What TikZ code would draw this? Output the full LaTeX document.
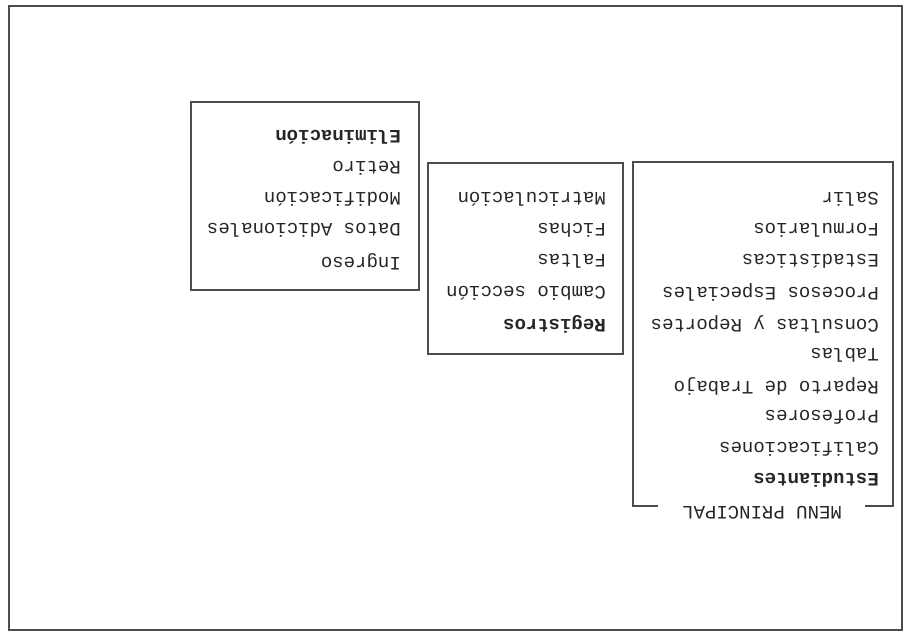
\documentclass[tikz,border=0pt]{standalone}
\usepackage{fontspec}
\setmonofont{Liberation Mono}

\begin{document}
\begin{tikzpicture}[x=1pt, y=-1pt,
        opcion/.style={rotate=180, anchor=west, inner sep=0pt, text=black!85,
                       font=\ttfamily\fontsize{19}{21}\selectfont},
        marco/.style={draw=black!70, line width=1.3pt}]
    \useasboundingbox (0,0) rectangle (910,632);
    \draw[marco] (9,6) rectangle (902,630);

    % Menu principal
    \node[opcion] (titulo) at (842,513) {MENU PRINCIPAL};
    \draw[marco] (658,506) -- (633,506) -- (633,162) -- (893,162) -- (893,506) -- (865,506);
    \node[opcion] (est) at (879,480) {\bfseries Estudiantes};
    \node[opcion] (cal) at (879,448.8) {Calificaciones};
    \node[opcion] (prof) at (879,417.6) {Profesores};
    \node[opcion] (rep) at (879,386.4) {Reparto de Trabajo};
    \node[opcion] (tab) at (879,355.2) {Tablas};
    \node[opcion] (cons) at (879,324) {Consultas y Reportes};
    \node[opcion] (proc) at (879,292.8) {Procesos Especiales};
    \node[opcion] (estad) at (879,261.6) {Estadísticas};
    \node[opcion] (form) at (879,230.4) {Formularios};
    \node[opcion] (sal) at (879,199.2) {Salir};

    % Submenu estudiantes
    \draw[marco] (428,163) rectangle (623,354);
    \node[opcion] (reg) at (606,324) {\bfseries Registros};
    \node[opcion] (camb) at (606,292.8) {Cambio sección};
    \node[opcion] (falt) at (606,261.6) {Faltas};
    \node[opcion] (fich) at (606,230.4) {Fichas};
    \node[opcion] (matr) at (606,199.2) {Matriculación};

    % Submenu registros
    \draw[marco] (191,102) rectangle (419,290);
    \node[opcion] (ingr) at (401,261.6) {Ingreso};
    \node[opcion] (datos) at (401,230.4) {Datos Adicionales};
    \node[opcion] (modif) at (401,199.2) {Modificación};
    \node[opcion] (ret) at (401,168) {Retiro};
    \node[opcion] (elim) at (401,136.8) {\bfseries Eliminación};
\end{tikzpicture}
\end{document}
